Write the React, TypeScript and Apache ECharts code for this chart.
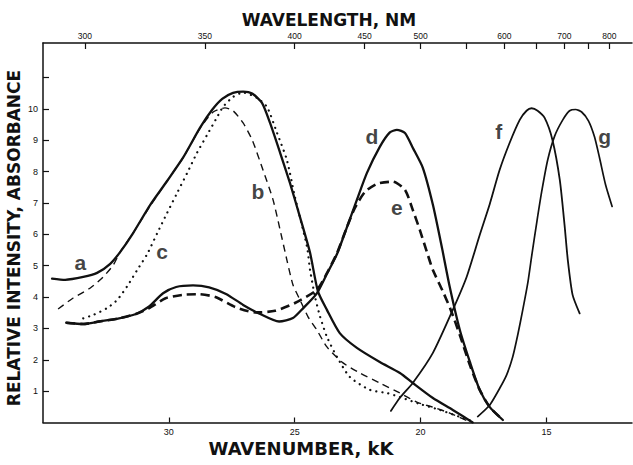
import React, { useEffect, useRef } from "react";
import * as echarts from "echarts";

// Wavenumber axis (kK), drawn reversed
const xMin = 11.6;
const xMax = 35;
const yMin = 0;
const yMax = 12.1;
const bottomTickValues = [30, 25, 20, 15];
const topLabelNm = [300, 350, 400, 450, 500, 600, 700, 800];
const topTickNm = [300, 350, 400, 450, 500, 550, 600, 650, 700, 750, 800];
const yTickValues = [1, 2, 3, 4, 5, 6, 7, 8, 9, 10, 11];
const yLabelValues = [1, 2, 3, 4, 5, 6, 7, 8, 9, 10];

// [wavenumber kK, relative intensity]
const curveA = [
  [34.64, 4.59], [34.12, 4.55], [33.4, 4.64], [32.85, 4.77], [32.33, 5.06], [31.93, 5.44],
  [31.42, 6.04], [30.74, 6.94], [30.07, 7.7], [29.43, 8.45], [28.76, 9.4], [28.28, 9.97],
  [27.88, 10.32], [27.45, 10.51], [27.05, 10.55], [26.69, 10.49], [26.3, 10.19], [25.98, 9.55],
  [25.58, 8.6], [25.19, 7.64], [24.79, 6.55], [24.39, 5.41], [24.08, 4.19], [23.72, 3.59],
  [23.21, 2.85], [22.53, 2.38], [21.62, 1.93], [20.82, 1.58], [20.31, 1.26], [19.51, 0.78],
  [18.72, 0.4], [17.93, 0.0],
];
const curveB = [
  [34.4, 3.62], [33.8, 3.97], [33.12, 4.29], [32.61, 4.64], [32.21, 5.02], [31.93, 5.44],
  [31.42, 6.04], [30.74, 6.91], [30.07, 7.7], [29.43, 8.45], [28.76, 9.38], [28.24, 9.9],
  [27.77, 10.03], [27.45, 9.94], [27.05, 9.55], [26.69, 9.01], [26.26, 8.05], [25.86, 7.1],
  [25.58, 6.14], [25.31, 5.18], [25.07, 4.39], [24.79, 3.91], [24.47, 3.37], [24.12, 2.95],
  [23.72, 2.41], [23.08, 1.9], [22.41, 1.58], [21.62, 1.26], [20.82, 0.94], [20.15, 0.65],
  [19.51, 0.49], [18.84, 0.3], [18.04, 0.02],
];
const curveC = [
  [33.4, 3.32], [33.0, 3.43], [32.45, 3.65], [32.05, 3.91], [31.65, 4.35], [31.26, 4.86],
  [30.86, 5.37], [30.46, 6.04], [30.07, 6.68], [29.67, 7.32], [29.27, 7.96], [28.88, 8.6],
  [28.48, 9.17], [28.08, 9.74], [27.85, 10.06], [27.45, 10.38], [27.05, 10.52], [26.5, 10.35],
  [26.1, 10.06], [25.7, 9.23], [25.31, 8.37], [24.99, 7.19], [24.51, 5.6], [24.39, 4.86],
  [24.19, 4.0], [23.99, 3.37], [23.72, 2.73], [23.32, 2.09], [22.81, 1.45], [22.01, 1.04],
  [21.34, 0.94], [20.82, 0.81], [20.03, 0.59], [19.24, 0.4], [18.44, 0.18], [17.85, 0.02],
];
const curveD = [
  [34.08, 3.18], [33.4, 3.14], [32.77, 3.22], [31.98, 3.32], [31.31, 3.46], [30.8, 3.69],
  [30.23, 4.12], [29.71, 4.32], [29.04, 4.37], [28.4, 4.31], [27.73, 4.1], [27.05, 3.75],
  [26.42, 3.48], [25.62, 3.22], [25.07, 3.33], [24.67, 3.64], [24.12, 4.12], [23.72, 4.74],
  [23.32, 5.37], [22.92, 6.24], [22.53, 7.1], [22.13, 7.96], [21.62, 8.79], [21.22, 9.25],
  [20.94, 9.33], [20.62, 9.23], [20.31, 8.76], [19.91, 8.12], [19.51, 6.94], [19.15, 5.57],
  [18.84, 4.32], [18.44, 2.95], [18.04, 1.93], [17.65, 1.04], [17.25, 0.49], [16.73, 0.08],
];
const curveE = [
  [34.08, 3.18], [33.4, 3.14], [32.77, 3.22], [31.98, 3.32], [31.31, 3.46], [30.8, 3.64],
  [30.13, 3.96], [29.46, 4.07], [28.82, 4.09], [28.15, 4.0], [27.36, 3.68], [26.57, 3.51],
  [25.78, 3.56], [24.99, 3.81], [24.12, 4.23], [23.72, 4.76], [23.32, 5.4], [22.92, 6.24],
  [22.61, 6.84], [22.21, 7.35], [21.73, 7.61], [21.1, 7.68], [20.62, 7.42], [20.31, 6.78],
  [20.03, 6.14], [19.75, 5.44], [19.51, 4.86], [19.12, 4.19], [18.8, 3.59], [18.44, 2.79],
  [18.04, 1.83], [17.65, 1.04], [17.25, 0.49], [16.73, 0.08],
];
const curveF = [
  [21.18, 0.37], [20.82, 0.79], [20.31, 1.26], [19.51, 2.22], [18.72, 3.59], [18.17, 4.64],
  [17.65, 5.98], [17.25, 6.97], [16.86, 8.05], [16.46, 8.92], [16.06, 9.65], [15.79, 9.94],
  [15.59, 10.02], [15.35, 9.94], [15.07, 9.71], [14.76, 9.01], [14.47, 7.74], [14.28, 6.3],
  [14.15, 5.18], [13.96, 4.07], [13.68, 3.48],
];
const curveG = [
  [17.73, 0.19], [17.25, 0.56], [16.85, 1.1], [16.58, 1.52], [16.34, 2.09], [16.14, 2.79],
  [15.94, 3.59], [15.74, 4.45], [15.58, 5.34], [15.38, 6.4], [15.19, 7.35], [14.95, 8.37],
  [14.67, 9.14], [14.35, 9.65], [14.08, 9.94], [13.84, 9.98], [13.6, 9.9], [13.33, 9.62],
  [13.09, 9.11], [12.89, 8.44], [12.65, 7.58], [12.39, 6.89],
];
// curve letter labels [wavenumber, intensity, letter]
const curveLabels = [
  [33.52, 5.09, "a"], [26.46, 7.35, "b"], [30.27, 5.44, "c"], [21.93, 9.11, "d"],
  [20.94, 6.84, "e"], [16.89, 9.27, "f"], [12.69, 9.11, "g"],
];

const INK = "#111";
const TITLE_FONT = "DejaVu Sans";

export default function App() {
  const ref = useRef<HTMLDivElement>(null);
  useEffect(() => {
    document.body.style.margin = "0";
    const chart = echarts.init(ref.current!, null, { renderer: "svg" });
    const lineSeries = (data: number[][], width: number, type: any, extra: any = {}) => ({
      type: "line",
      data,
      xAxisIndex: 0,
      yAxisIndex: 0,
      showSymbol: false,
      symbol: "none",
      smooth: 0.22,
      silent: true,
      lineStyle: { color: INK, width, type, cap: "round", join: "round", ...extra },
      z: 3,
    });
    const axisCommon = {
      min: xMin,
      max: xMax,
      inverse: true,
      type: "value" as const,
      splitLine: { show: false },
      axisLine: { show: true, lineStyle: { color: INK, width: 1.5 } },
    };
    chart.setOption({
      animation: false,
      backgroundColor: "#fff",
      grid: { left: 43, right: 1, top: 43, bottom: 42.5 },
      xAxis: [
        {
          ...axisCommon,
          position: "bottom",
          axisTick: {
            show: true,
            inside: true,
            length: 5,
            lineStyle: { color: INK, width: 1.2 },
            customValues: bottomTickValues,
          },
          axisLabel: {
            show: true,
            customValues: bottomTickValues,
            color: INK,
            fontSize: 9,
            fontFamily: "Liberation Sans",
            margin: 5,
          },
        },
        {
          ...axisCommon,
          position: "top",
          axisTick: {
            show: true,
            inside: true,
            length: 6,
            lineStyle: { color: INK, width: 1.2 },
            customValues: topTickNm.map((nm) => 10000 / nm),
          },
          axisLabel: {
            show: true,
            customValues: topLabelNm.map((nm) => 10000 / nm),
            formatter: (v: number) => String(Math.round(10000 / v)),
            color: INK,
            fontSize: 8.5,
            fontFamily: "Liberation Sans",
            margin: 3,
          },
        },
      ],
      yAxis: {
        type: "value",
        min: yMin,
        max: yMax,
        splitLine: { show: false },
        axisLine: { show: true, lineStyle: { color: INK, width: 1.5 } },
        axisTick: {
          show: true,
          inside: true,
          length: 6,
          lineStyle: { color: INK, width: 1.2 },
          customValues: yTickValues,
        },
        axisLabel: {
          show: true,
          customValues: yLabelValues,
          color: INK,
          fontSize: 9,
          fontFamily: "Liberation Sans",
          margin: 5,
        },
      },
      graphic: [
        {
          type: "text",
          x: 329,
          y: 20,
          style: {
            text: "WAVELENGTH, NM",
            font: `bold 17px "${TITLE_FONT}"`,
            fill: INK,
            align: "center",
            verticalAlign: "middle",
          },
        },
        {
          type: "text",
          x: 301,
          y: 448,
          style: {
            text: "WAVENUMBER, kK",
            font: `bold 18px "${TITLE_FONT}"`,
            fill: INK,
            align: "center",
            verticalAlign: "middle",
          },
        },
        {
          type: "text",
          x: 14,
          y: 238,
          rotation: Math.PI / 2,
          style: {
            text: "RELATIVE INTENSITY, ABSORBANCE",
            font: `bold 17px "${TITLE_FONT}"`,
            fill: INK,
            align: "center",
            verticalAlign: "middle",
          },
        },
      ],
      series: [
        lineSeries(curveC, 2.2, [0.1, 6], {}),
        lineSeries(curveB, 1.4, [7, 5], { cap: "butt" }),
        lineSeries(curveE, 2.6, [9, 5], { cap: "butt" }),
        lineSeries(curveA, 2.3, "solid"),
        lineSeries(curveD, 2.3, "solid"),
        lineSeries(curveF, 1.8, "solid"),
        lineSeries(curveG, 1.7, "solid"),
        {
          type: "scatter",
          data: curveLabels,
          symbolSize: 1,
          itemStyle: { color: "rgba(0,0,0,0)" },
          silent: true,
          z: 5,
          label: {
            show: true,
            position: "inside",
            formatter: (p: any) => p.value[2],
            color: INK,
            fontSize: 21,
            fontWeight: "bold",
            fontFamily: "Liberation Sans",
          },
        },
      ],
    });
    return () => chart.dispose();
  }, []);
  return <div ref={ref} style={{ width: 633, height: 465 }} />;
}
